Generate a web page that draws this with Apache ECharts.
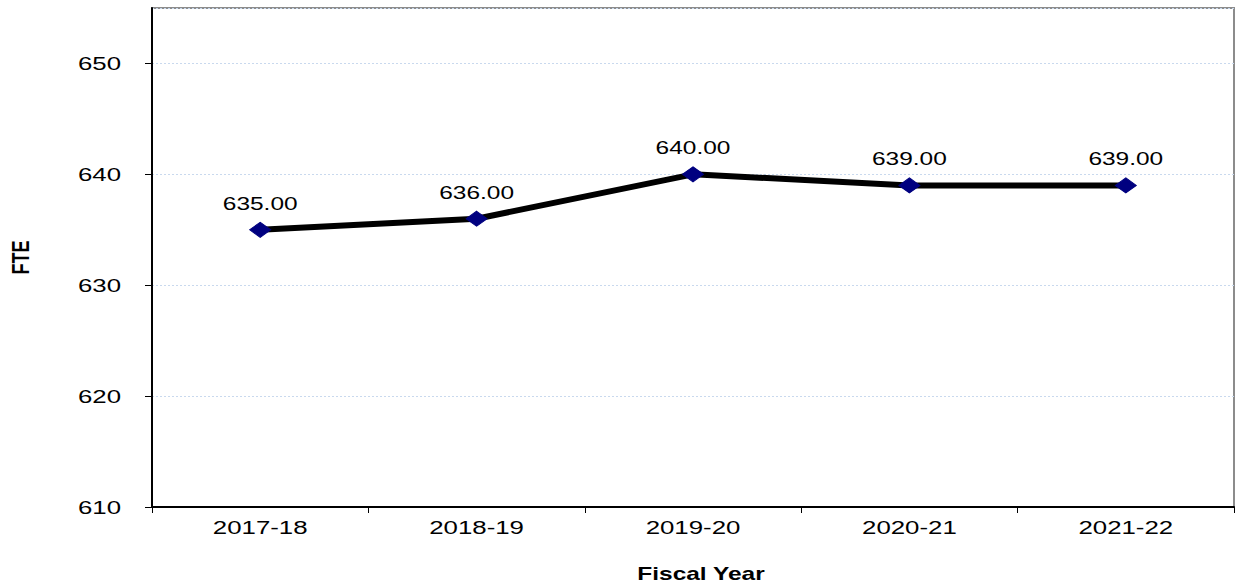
<!DOCTYPE html>
<html>
<head>
<meta charset="utf-8">
<script src="https://cdn.jsdelivr.net/npm/echarts@6/dist/echarts.min.js"></script>
<style>
html,body{margin:0;padding:0;background:#fff}
#c{width:1236px;height:588px}
</style>
</head>
<body>
<div id="c"></div>
<script>
const categories = ['2017-18', '2018-19', '2019-20', '2020-21', '2021-22'];
const fteValues = [635, 636, 640, 639, 639];
const yMin = 610, yMax = 655, yInterval = 10;

const chart = echarts.init(document.getElementById('c'), null, { renderer: 'svg' });
const font = 'Liberation Sans, Arial, sans-serif';
chart.setOption({
  animation: false,
  backgroundColor: '#fff',
  grid: { left: 152, right: 2, top: 8, bottom: 78, show: true, borderColor: '#8c8c8c', borderWidth: 2, backgroundColor: 'transparent' },
  xAxis: {
    type: 'category', data: categories, boundaryGap: true,
    name: 'Fiscal Year', nameLocation: 'middle', nameGap: 58,
    nameTextStyle: { fontFamily: font, fontSize: 18, fontWeight: 'bold', color: '#000', padding: [0, 0, 0, 16] },
    axisLine: { lineStyle: { color: '#000', width: 2 } },
    axisTick: { show: true, alignWithLabel: false, length: 6, lineStyle: { color: '#000', width: 1 } },
    axisLabel: { fontFamily: font, fontSize: 19, color: '#000', margin: 11 },
    splitLine: { show: false }
  },
  yAxis: {
    type: 'value', min: yMin, max: yMax, interval: yInterval,
    name: 'FTE', nameLocation: 'middle', nameGap: 122,
    nameTextStyle: { fontFamily: font, fontSize: 18, fontWeight: 'bold', color: '#000' },
    axisLine: { show: true, lineStyle: { color: '#000', width: 2 } },
    axisTick: { show: true, length: 7, lineStyle: { color: '#000', width: 1 } },
    axisLabel: { fontFamily: font, fontSize: 19, color: '#000', margin: 31, showMaxLabel: false },
    splitLine: { show: true, lineStyle: { color: '#c9d9ee', type: [2, 2], width: 1 } }
  },
  series: [{
    type: 'line', data: fteValues,
    lineStyle: { color: '#000', width: 6 },
    symbol: 'diamond', symbolSize: [21, 15],
    itemStyle: { color: '#000080', borderColor: '#000080' },
    label: { show: true, position: 'top', distance: 9, fontFamily: font, fontSize: 18, color: '#000',
      formatter: p => p.value.toFixed(2) },
    z: 5
  }]
});
// horizontally stretch text like the reference (scaled around each text's own anchor)
function stretchTexts() {
  const s = 1.36;
  document.querySelectorAll('#c svg text').forEach(t => {
    const bb = t.getBBox();
    const base = t.getAttribute('transform') || '';
    if (t.textContent === 'FTE') {
      const oy = bb.y + bb.height / 2;
      t.setAttribute('transform', base + ` translate(0 ${oy}) scale(1 ${s}) translate(0 ${-oy})`);
      return;
    }
    const anchor = t.getAttribute('text-anchor') || getComputedStyle(t).textAnchor || 'start';
    let ox = bb.x;
    if (anchor === 'middle') ox = bb.x + bb.width / 2;
    else if (anchor === 'end') ox = bb.x + bb.width;
    t.setAttribute('transform', base + ` translate(${ox} 0) scale(${s} 1) translate(${-ox} 0)`);
  });
}
stretchTexts();
</script>
</body>
</html>
